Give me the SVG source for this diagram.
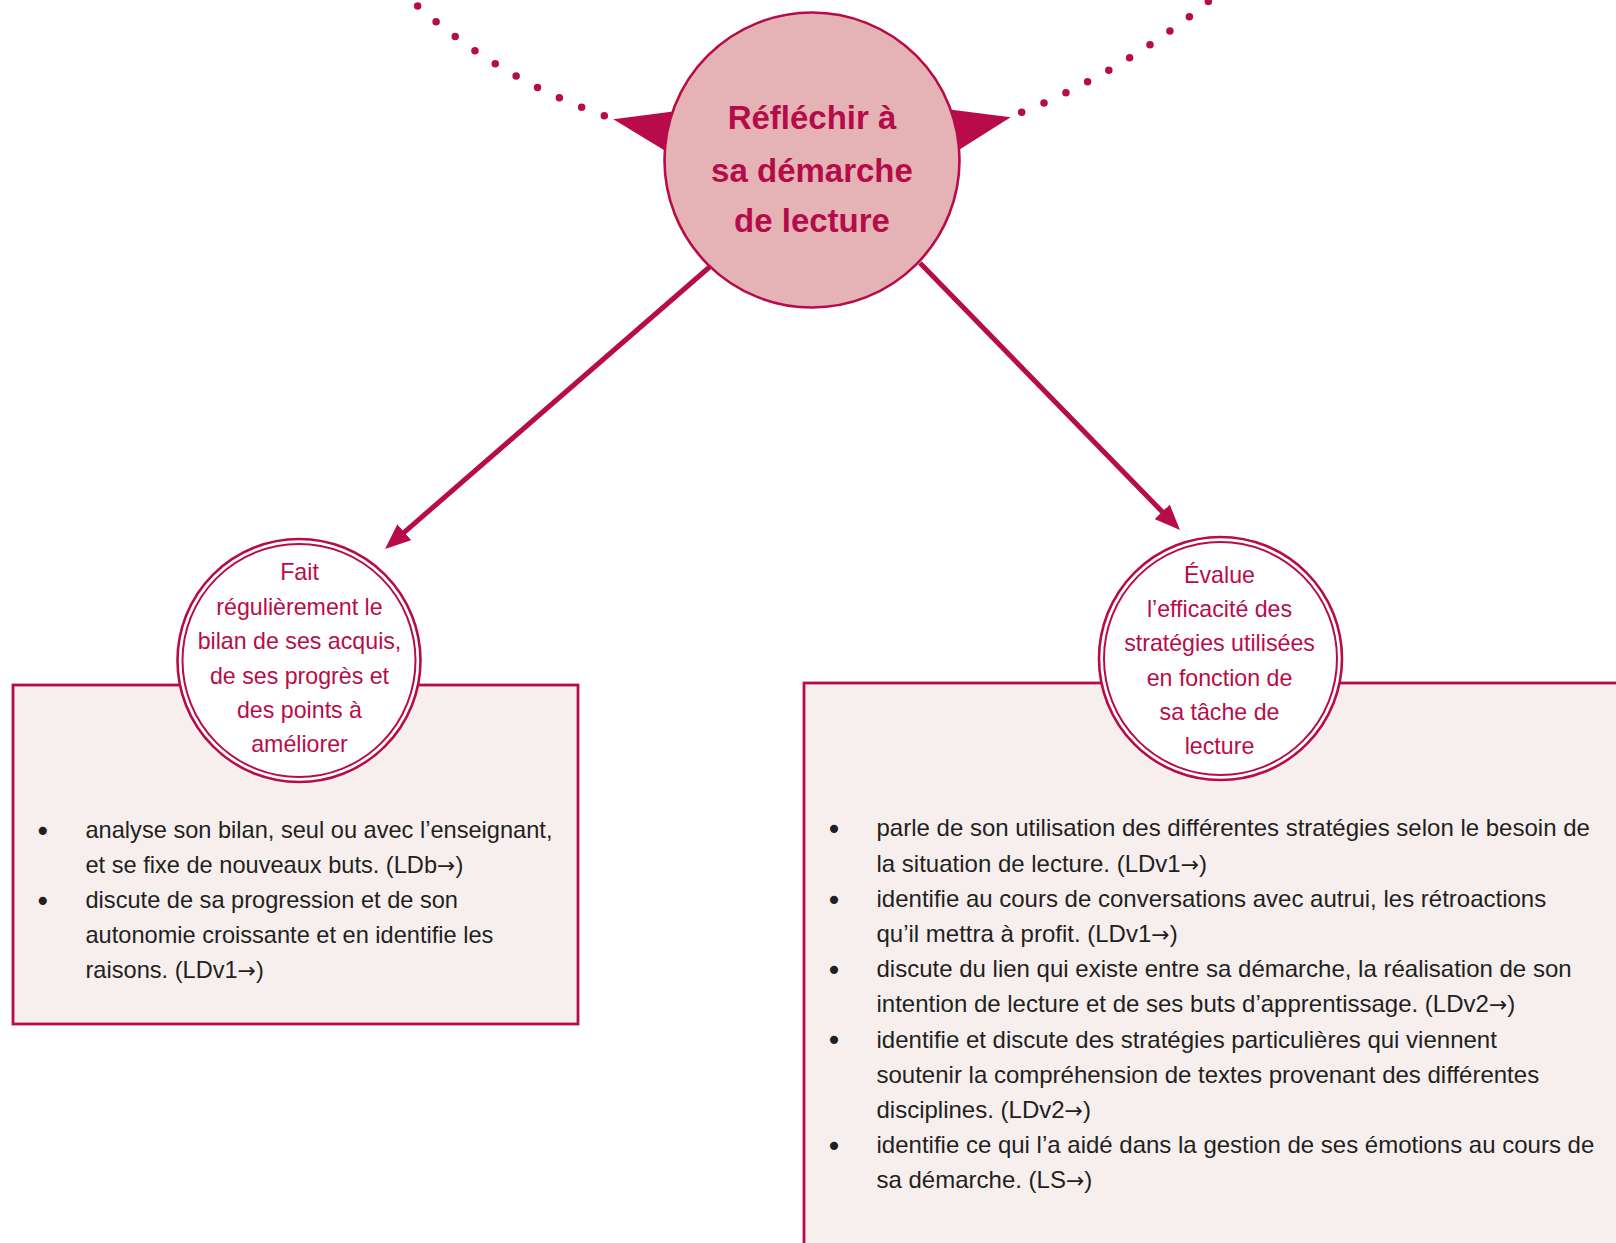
<svg xmlns="http://www.w3.org/2000/svg" width="1616" height="1243" viewBox="0 0 1616 1243">
<style>
.crim{fill:#B80C4A}
.dots{fill:none;stroke:#B80C4A;stroke-width:7.5;stroke-linecap:round;stroke-dasharray:0 24.2}
.arrow{fill:none;stroke:#B80C4A;stroke-width:5}
.box{fill:#F7EEEE;stroke:#B80C4A;stroke-width:2.8}
.ringO{fill:#FFFFFF;stroke:#B80C4A;stroke-width:2.6}
.ringI{fill:none;stroke:#B80C4A;stroke-width:2}
.title{font-family:"Liberation Sans",Arial,sans-serif;font-weight:bold;font-size:33px;fill:#B50C49;text-anchor:middle}
.ctext{font-family:"Liberation Sans",Arial,sans-serif;font-size:23.2px;fill:#B80C4A;text-anchor:middle}
.body{font-family:"Liberation Sans",Arial,sans-serif;font-size:23.6px;fill:#231F20}
.bodyR{font-family:"Liberation Sans",Arial,sans-serif;font-size:24px;fill:#231F20}
.bul{font-family:"DejaVu Sans",sans-serif;font-size:28px;fill:#231F20;text-anchor:middle}
.ar{font-family:"DejaVu Sans",sans-serif;font-size:22px}
</style>
<defs>
<marker id="ah" viewBox="0 0 25.5 21" markerUnits="userSpaceOnUse" markerWidth="25.5" markerHeight="21" refX="13.5" refY="10.5" orient="auto">
<path d="M0,0 L25.5,10.5 L0,21 z" fill="#B80C4A"/>
</marker>
</defs>
<rect width="1616" height="1243" fill="#FFFFFF"/>
<g id="connectors">
<path class="dots" d="M604.3,115.7 A557.8 557.8 0 0 1 404.1,-6.4"/>
<path class="dots" d="M1021.7,112.3 A708.8 708.8 0 0 0 1222,-10"/>
<polygon class="crim" points="613.3,119.3 700,108 700,172"/>
<polygon class="crim" points="1010.7,117.3 930,107 935,165"/>
<line class="arrow" x1="710.7" y1="266" x2="394.1" y2="541.1" marker-end="url(#ah)"/>
<line class="arrow" x1="920" y1="263" x2="1171.6" y2="521.4" marker-end="url(#ah)"/>
</g>
<g id="node-center">
<circle cx="812" cy="160" r="147.5" fill="#E5B3B6" stroke="#B80C4A" stroke-width="2.6"/>
<text class="title" x="812" y="129.3">Réfléchir à</text>
<text class="title" x="812" y="181.7">sa démarche</text>
<text class="title" x="812" y="232.3">de lecture</text>
</g>
<g id="node-left">
<rect class="box" x="13" y="685" width="565" height="339"/>
<circle class="ringO" cx="299" cy="660.5" r="121.5"/>
<circle class="ringI" cx="299" cy="660.5" r="116.5"/>
<text class="ctext" x="299.5" y="580">Fait</text>
<text class="ctext" x="299.5" y="614.5">régulièrement le</text>
<text class="ctext" x="299.5" y="649.3">bilan de ses acquis,</text>
<text class="ctext" x="299.5" y="684">de ses progrès et</text>
<text class="ctext" x="299.5" y="718.3">des points à</text>
<text class="ctext" x="299.5" y="752.3">améliorer</text>
<text class="bul" x="42.7" y="841.1">•</text>
<text class="body" x="85.5" y="838.3">analyse son bilan, seul ou avec l’enseignant,</text>
<text class="body" x="85.5" y="873.3">et se fixe de nouveaux buts. (LDb<tspan class="ar">→</tspan>)</text>
<text class="bul" x="42.7" y="911.1">•</text>
<text class="body" x="85.5" y="908.3">discute de sa progression et de son</text>
<text class="body" x="85.5" y="943.3">autonomie croissante et en identifie les</text>
<text class="body" x="85.5" y="978">raisons. (LDv1<tspan class="ar">→</tspan>)</text>
</g>
<g id="node-right">
<rect class="box" x="804" y="683" width="900" height="700"/>
<circle class="ringO" cx="1220.5" cy="658.5" r="121.5"/>
<circle class="ringI" cx="1220.5" cy="658.5" r="116.5"/>
<text class="ctext" x="1219.5" y="582.7">Évalue</text>
<text class="ctext" x="1219.5" y="616.7">l’efficacité des</text>
<text class="ctext" x="1219.5" y="651">stratégies utilisées</text>
<text class="ctext" x="1219.5" y="685.7">en fonction de</text>
<text class="ctext" x="1219.5" y="720">sa tâche de</text>
<text class="ctext" x="1219.5" y="754.3">lecture</text>
<text class="bul" x="834" y="839.1">•</text>
<text class="bodyR" x="876.5" y="836.3">parle de son utilisation des différentes stratégies selon le besoin de</text>
<text class="bodyR" x="876.5" y="871.5">la situation de lecture. (LDv1<tspan class="ar">→</tspan>)</text>
<text class="bul" x="834" y="909.5">•</text>
<text class="bodyR" x="876.5" y="906.7">identifie au cours de conversations avec autrui, les rétroactions</text>
<text class="bodyR" x="876.5" y="941.9">qu’il mettra à profit. (LDv1<tspan class="ar">→</tspan>)</text>
<text class="bul" x="834" y="979.9">•</text>
<text class="bodyR" x="876.5" y="977.1">discute du lien qui existe entre sa démarche, la réalisation de son</text>
<text class="bodyR" x="876.5" y="1012.3">intention de lecture et de ses buts d’apprentissage. (LDv2<tspan class="ar">→</tspan>)</text>
<text class="bul" x="834" y="1050.3">•</text>
<text class="bodyR" x="876.5" y="1047.5">identifie et discute des stratégies particulières qui viennent</text>
<text class="bodyR" x="876.5" y="1082.7">soutenir la compréhension de textes provenant des différentes</text>
<text class="bodyR" x="876.5" y="1117.9">disciplines. (LDv2<tspan class="ar">→</tspan>)</text>
<text class="bul" x="834" y="1155.9">•</text>
<text class="bodyR" x="876.5" y="1153.1">identifie ce qui l’a aidé dans la gestion de ses émotions au cours de</text>
<text class="bodyR" x="876.5" y="1188.3">sa démarche. (LS<tspan class="ar">→</tspan>)</text>
</g>
</svg>
